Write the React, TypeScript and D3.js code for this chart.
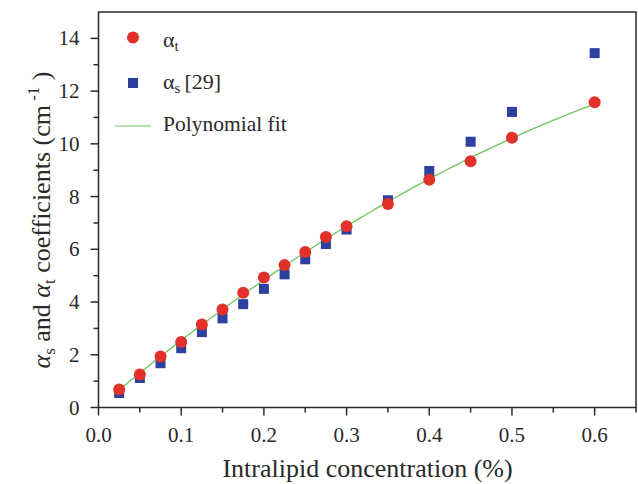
import React from "react";
import * as d3 from "d3";

const concentrationT = [0.025, 0.05, 0.075, 0.1, 0.125, 0.15, 0.175, 0.2, 0.225, 0.25, 0.275, 0.3, 0.35, 0.4, 0.45, 0.5, 0.6];
const alphaT = [0.68, 1.25, 1.93, 2.48, 3.15, 3.72, 4.35, 4.93, 5.4, 5.9, 6.47, 6.87, 7.72, 8.64, 9.34, 10.23, 11.58];
const concentrationS = [0.025, 0.05, 0.075, 0.1, 0.125, 0.15, 0.175, 0.2, 0.225, 0.25, 0.275, 0.3, 0.35, 0.4, 0.45, 0.5, 0.6];
const alphaS = [0.55, 1.12, 1.68, 2.25, 2.86, 3.38, 3.92, 4.5, 5.05, 5.62, 6.2, 6.75, 7.86, 8.97, 10.08, 11.21, 13.44];
const xTicks = [0.0, 0.1, 0.2, 0.3, 0.4, 0.5, 0.6];
const yTicks = [0, 2, 4, 6, 8, 10, 12, 14];

// quadratic least-squares fit of alphaT
function quadFit(xs: number[], ys: number[]) {
  const n = xs.length;
  let s0 = n, s1 = 0, s2 = 0, s3 = 0, s4 = 0, t0 = 0, t1 = 0, t2 = 0;
  for (let i = 0; i < n; i++) {
    const x = xs[i], y = ys[i];
    s1 += x; s2 += x * x; s3 += x ** 3; s4 += x ** 4;
    t0 += y; t1 += x * y; t2 += x * x * y;
  }
  const A = [[s0, s1, s2, t0], [s1, s2, s3, t1], [s2, s3, s4, t2]];
  for (let i = 0; i < 3; i++) {
    for (let j = i + 1; j < 3; j++) {
      const f = A[j][i] / A[i][i];
      for (let k = i; k < 4; k++) A[j][k] -= f * A[i][k];
    }
  }
  const c = [0, 0, 0];
  for (let i = 2; i >= 0; i--) {
    let s = A[i][3];
    for (let k = i + 1; k < 3; k++) s -= A[i][k] * c[k];
    c[i] = s / A[i][i];
  }
  return (x: number) => c[0] + c[1] * x + c[2] * x * x;
}

const W = 638, H = 484;
const M = { left: 98.5, right: 636, top: 12, bottom: 407.5 };
const font = "Liberation Serif, Times New Roman, serif";
const axisColor = "#2a2a2a";
const textColor = "#2a2a2a";

export default function App() {
  const x = d3.scaleLinear().domain([0, 0.65]).range([M.left, M.right]);
  const y = d3.scaleLinear().domain([0, 15]).range([M.bottom, M.top]);
  const fit = quadFit(concentrationT, alphaT);
  const fitX = d3.range(0, 101).map((i) => 0.025 + (0.575 * i) / 100);
  const line = d3.line<number>().x((d) => x(d)).y((d) => y(fit(d)));
  const xMinor = d3.range(0.05, 0.66, 0.1);
  const yMinor = d3.range(1, 15, 2);

  return (
    <svg width={W} height={H} style={{ position: "absolute", left: 0, top: 0, background: "#fff" }}>
      <rect x={0} y={0} width={W} height={H} fill="#fff" />
      {/* frame */}
      <rect x={M.left} y={M.top} width={M.right - M.left} height={M.bottom - M.top} fill="none" stroke={axisColor} strokeWidth={1.5} />
      {/* x ticks */}
      {xTicks.map((t) => (
        <g key={"xt" + t}>
          <line x1={x(t)} x2={x(t)} y1={M.bottom} y2={M.bottom + 8} stroke={axisColor} strokeWidth={1.5} />
          <text x={x(t)} y={M.bottom + 34} textAnchor="middle" fontFamily={font} fontSize={21} fill={textColor}>
            {d3.format(".1f")(t)}
          </text>
        </g>
      ))}
      {xMinor.map((t) => (
        <line key={"xm" + t} x1={x(t)} x2={x(t)} y1={M.bottom} y2={M.bottom + 5} stroke={axisColor} strokeWidth={1.5} />
      ))}
      {/* y ticks */}
      {yTicks.map((t) => (
        <g key={"yt" + t}>
          <line x1={M.left - 8} x2={M.left} y1={y(t)} y2={y(t)} stroke={axisColor} strokeWidth={1.5} />
          <text x={M.left - 19} y={y(t) + 7} textAnchor="end" fontFamily={font} fontSize={21} fill={textColor}>
            {t}
          </text>
        </g>
      ))}
      {yMinor.map((t) => (
        <line key={"ym" + t} x1={M.left - 5} x2={M.left} y1={y(t)} y2={y(t)} stroke={axisColor} strokeWidth={1.5} />
      ))}
      {/* fit line */}
      <path d={line(fitX) || ""} fill="none" stroke="#6cc85c" strokeWidth={1.3} />
      {/* squares */}
      {concentrationS.map((c, i) => (
        <rect key={"s" + i} x={x(c) - 5} y={y(alphaS[i]) - 5} width={10} height={10} fill="#2b40a0" />
      ))}
      {/* circles */}
      {concentrationT.map((c, i) => (
        <circle key={"c" + i} cx={x(c)} cy={y(alphaT[i])} r={6} fill="#e2312a" />
      ))}
      {/* legend */}
      <circle cx={133} cy={37.5} r={6} fill="#e2312a" />
      <text x={163} y={47} fontFamily={font} fontSize={22} fill={textColor}>
        α<tspan fontSize={15} dy={4}>t</tspan>
      </text>
      <rect x={128} y={78} width={10} height={10} fill="#2b40a0" />
      <text x={163} y={89} fontFamily={font} fontSize={22} fill={textColor}>
        α<tspan fontSize={15} dy={4}>s</tspan>
        <tspan dy={-4} dx={4}>[29]</tspan>
      </text>
      <line x1={115} x2={151} y1={126} y2={126} stroke="#9fdc93" strokeWidth={1.5} />
      <text x={163} y={131} fontFamily={font} fontSize={21.5} fill={textColor}>
        Polynomial fit
      </text>
      {/* x label */}
      <text x={367.5} y={477} textAnchor="middle" fontFamily={font} fontSize={26} fill={textColor}>
        Intralipid concentration (%)
      </text>
      {/* y label */}
      <text transform={`translate(50, 220) rotate(-90)`} textAnchor="middle" fontFamily={font} fontSize={26} fill={textColor}>
        <tspan fontStyle="italic">α</tspan>
        <tspan fontSize={17} dy={5}>s</tspan>
        <tspan dy={-5}> and </tspan>
        <tspan fontStyle="italic">α</tspan>
        <tspan fontSize={17} dy={5}>t</tspan>
        <tspan dy={-5}> coefficients (cm</tspan>
        <tspan fontSize={17} dy={-11}> -1</tspan>
        <tspan dy={11}> )</tspan>
      </text>
    </svg>
  );
}
